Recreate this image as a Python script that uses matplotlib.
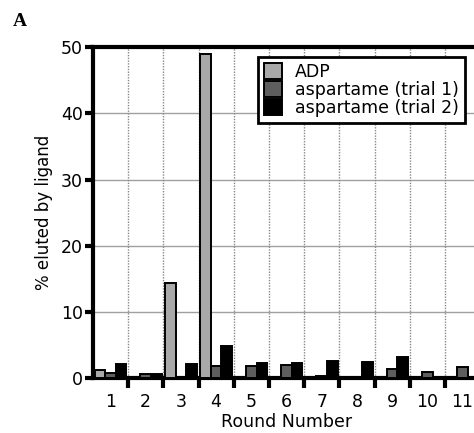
import matplotlib.pyplot as plt
import numpy as np

rounds = [1, 2, 3, 4, 5, 6, 7, 8, 9, 10, 11]
adp = [1.2, 0.2, 14.3, 49.0, 0.0, 0.0, 0.0, 0.0, 0.0, 0.0, 0.0]
asp_trial1 = [0.7, 0.6, 0.1, 1.8, 1.8, 1.9, 0.3, 0.2, 1.3, 0.9, 1.7]
asp_trial2 = [2.1, 0.6, 2.1, 4.8, 2.3, 2.2, 2.6, 2.4, 3.1, 0.1, 0.0]
series_names = ["ADP", "aspartame (trial 1)", "aspartame (trial 2)"]
colors = ["#a9a9a9", "#5e5e5e", "#000000"]

fig = plt.figure(figsize=(4.74, 4.33), dpi=100)
ax = fig.add_axes([0.196, 0.127, 0.817, 0.764])

x = np.array(rounds)
w = 0.3
for i, (vals, name, c) in enumerate(zip([adp, asp_trial1, asp_trial2], series_names, colors)):
    ax.bar(x + (i - 1) * w, vals, width=w, color=c, edgecolor="black",
           linewidth=1.4, label=name, zorder=3)

ax.set_xlim(0.5, 11.5)
ax.set_ylim(0, 50)
ax.set_yticks([0, 10, 20, 30, 40, 50])
ax.set_xticks(x)
ax.set_xticklabels([str(r) for r in rounds], fontsize=12.5)
ax.set_xticks(np.arange(1.5, 11.5, 1), minor=True)
ax.tick_params(axis="x", which="major", length=0, pad=10.5)
ax.tick_params(axis="x", which="minor", direction="out", length=7, width=3)
ax.tick_params(axis="y", direction="out", length=6, width=3, labelsize=12.5, pad=1)

for y in [10, 20, 30, 40]:
    ax.axhline(y, color="#a0a0a0", linewidth=1.0, zorder=1)
for xv in np.arange(1.5, 11.5, 1):
    ax.axvline(xv, color="#888888", linewidth=1.0, linestyle=(0, (1, 1)), zorder=1)

for side in ["left", "bottom", "top", "right"]:
    ax.spines[side].set_linewidth(3)

ax.set_xlabel("Round Number", fontsize=12.5, labelpad=1.5)
ax.set_ylabel("% eluted by ligand", fontsize=12, labelpad=6)

leg = ax.legend(loc="upper left", bbox_to_anchor=(0.426, 0.97), fontsize=12.5,
                frameon=True, fancybox=False, edgecolor="black",
                handlelength=1.05, handleheight=1.05, labelspacing=0.0,
                handletextpad=0.75, borderpad=0.35, borderaxespad=0)
leg.get_frame().set_linewidth(2)
leg.get_frame().set_alpha(1)

fig.text(0.027, 0.94, "A", fontsize=14, fontweight="bold", family="Liberation Serif")

fig.savefig("out.png", dpi=100)
